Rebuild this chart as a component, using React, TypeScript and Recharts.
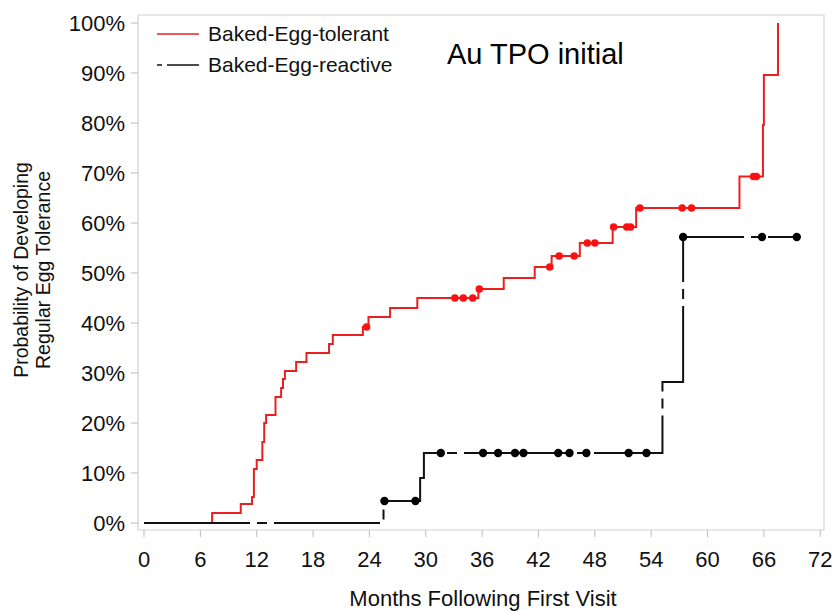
import { ComposedChart, Line, Scatter, XAxis, YAxis, ReferenceArea } from 'recharts'

const FONT = '"Liberation Sans", Arial, sans-serif'
const RED = '#e82020'
const BLACK = '#111111'

// Kaplan-Meier steps (months, percent)
const tolerantTimes = [0, 7.25, 10.3, 11.5, 11.7, 12.0, 12.6, 12.8, 13.0, 14.0, 14.6, 14.8, 15.0, 16.2, 17.3, 19.7, 20.1, 23.3, 23.9, 26.2, 29.1, 35.6, 38.3, 41.6, 43.4, 46.4, 49.9, 52.4, 63.4, 65.9, 66.0, 67.5]
const tolerantProb = [0, 2, 3.8, 5.2, 10.8, 12.6, 16.2, 20, 21.6, 25.2, 27, 28.8, 30.4, 32.2, 34, 35.8, 37.6, 39.2, 41.2, 43, 45, 46.8, 49, 51.2, 53.4, 56, 59.2, 63, 69.3, 79.6, 89.6, 100]

const tolerantCensorTimes = [23.7, 33.1, 34.0, 35.0, 35.7, 43.2, 44.2, 45.8, 47.2, 48.0, 50.0, 51.4, 51.8, 52.8, 57.3, 58.3, 64.9, 65.2]
const tolerantCensorProb = [39.2, 45, 45, 45, 46.8, 51.2, 53.4, 53.4, 56, 56, 59.2, 59.2, 59.2, 63, 63, 63, 69.3, 69.3]

const reactiveTimes = [0, 25.5, 29.4, 29.8, 55.2, 57.4, 69.9]
const reactiveProb = [0, 4.4, 9, 14, 28.2, 57.2, 57.2]

const reactiveCensorTimes = [25.6, 28.9, 31.6, 36.1, 37.7, 39.5, 40.4, 44.1, 45.3, 47.1, 51.6, 53.5, 57.4, 65.8, 69.5]
const reactiveCensorProb = [4.4, 4.4, 14, 14, 14, 14, 14, 14, 14, 14, 14, 14, 57.2, 57.2, 57.2]

const xTicks = [0, 6, 12, 18, 24, 30, 36, 42, 48, 54, 60, 66, 72]
const yTicks = [0, 10, 20, 30, 40, 50, 60, 70, 80, 90, 100]

const seriesNames = ['Baked-Egg-tolerant', 'Baked-Egg-reactive']
const title = 'Au TPO initial'
const xTitle = 'Months Following First Visit'
const yTitle = ['Probability of Developing', 'Regular Egg Tolerance']

const zip = (ts: number[], ps: number[]) => ts.map((t, i) => ({ t, p: ps[i] }))

const tolerant = zip(tolerantTimes, tolerantProb)
const tolerantCensor = zip(tolerantCensorTimes, tolerantCensorProb)
const reactive = zip(reactiveTimes, reactiveProb)
const reactiveCensor = zip(reactiveCensorTimes, reactiveCensorProb)

const X_DOMAIN: [number, number] = [-0.64, 72.4]
const Y_DOMAIN: [number, number] = [-1.4, 101.6]

const dot = (color: string, r: number) => (props: any) =>
  <circle cx={props.cx} cy={props.cy} r={r} fill={color} />

export default function App() {
  return (
    <div style={{ position: 'absolute', left: 0, top: 0, width: 834, height: 611, background: '#fff', fontFamily: FONT, overflow: 'hidden' }}>
      <ComposedChart width={834} height={611} margin={{ top: 15, right: 10, bottom: 0, left: 0 }}>
        <XAxis
          type="number"
          dataKey="t"
          domain={X_DOMAIN}
          allowDataOverflow
          ticks={xTicks}
          interval={0}
          height={81}
          axisLine={false}
          tickSize={7}
          tickMargin={14}
          tickLine={{ stroke: '#bbb' }}
          tick={{ fill: '#111', fontSize: 22, fontFamily: FONT }}
        />
        <YAxis
          type="number"
          domain={Y_DOMAIN}
          allowDataOverflow
          ticks={yTicks}
          interval={0}
          width={138}
          axisLine={false}
          tickSize={7}
          tickMargin={6}
          tickLine={{ stroke: '#bbb' }}
          tick={{ fill: '#111', fontSize: 22, fontFamily: FONT }}
          tickFormatter={(v: number) => `${v}%`}
        />
        <ReferenceArea x1={X_DOMAIN[0]} x2={X_DOMAIN[1]} y1={Y_DOMAIN[0]} y2={Y_DOMAIN[1]} fill="none" stroke="#d2d2d2" strokeWidth={1.2} ifOverflow="visible" />
        <Line data={tolerant} dataKey="p" type="stepAfter" stroke={RED} strokeWidth={2} dot={false} isAnimationActive={false} />
        <Line data={reactive} dataKey="p" type="stepAfter" stroke={BLACK} strokeWidth={2} strokeDasharray="106 7 10 7" dot={false} isAnimationActive={false} />
        <Scatter data={tolerantCensor} dataKey="p" fill={RED} shape={dot('#ff1010', 3.8)} isAnimationActive={false} />
        <Scatter data={reactiveCensor} dataKey="p" fill={BLACK} shape={dot('#000', 4.2)} isAnimationActive={false} />
      </ComposedChart>

      {/* legend */}
      <svg style={{ position: 'absolute', left: 150, top: 20 }} width={60} height={60}>
        <line x1={7} x2={49} y1={14} y2={14} stroke={RED} strokeWidth={1.5} />
        <line x1={7} x2={12} y1={45} y2={45} stroke={BLACK} strokeWidth={1.5} />
        <line x1={17} x2={49} y1={45} y2={45} stroke={BLACK} strokeWidth={1.5} />
      </svg>
      <div style={{ position: 'absolute', left: 208, top: 21, fontSize: 21, lineHeight: '26px', color: '#111', whiteSpace: 'nowrap' }}>{seriesNames[0]}</div>
      <div style={{ position: 'absolute', left: 208, top: 52, fontSize: 21, lineHeight: '26px', color: '#111', whiteSpace: 'nowrap' }}>{seriesNames[1]}</div>

      <div style={{ position: 'absolute', left: 447, top: 37, fontSize: 29, lineHeight: '34px', color: '#000', whiteSpace: 'nowrap' }}>{title}</div>

      <div style={{ position: 'absolute', left: 483, top: 586, transform: 'translateX(-50%)', fontSize: 22, lineHeight: '26px', color: '#111', whiteSpace: 'nowrap' }}>{xTitle}</div>

      <div style={{ position: 'absolute', left: 32, top: 270, width: 0, height: 0 }}>
        <div style={{ position: 'absolute', left: 0, top: 0, transform: 'translate(-50%, -50%) rotate(-90deg)', fontSize: 19.5, lineHeight: '22px', color: '#111', whiteSpace: 'nowrap', textAlign: 'center' }}>
          {yTitle[0]}<br />{yTitle[1]}
        </div>
      </div>
    </div>
  )
}
